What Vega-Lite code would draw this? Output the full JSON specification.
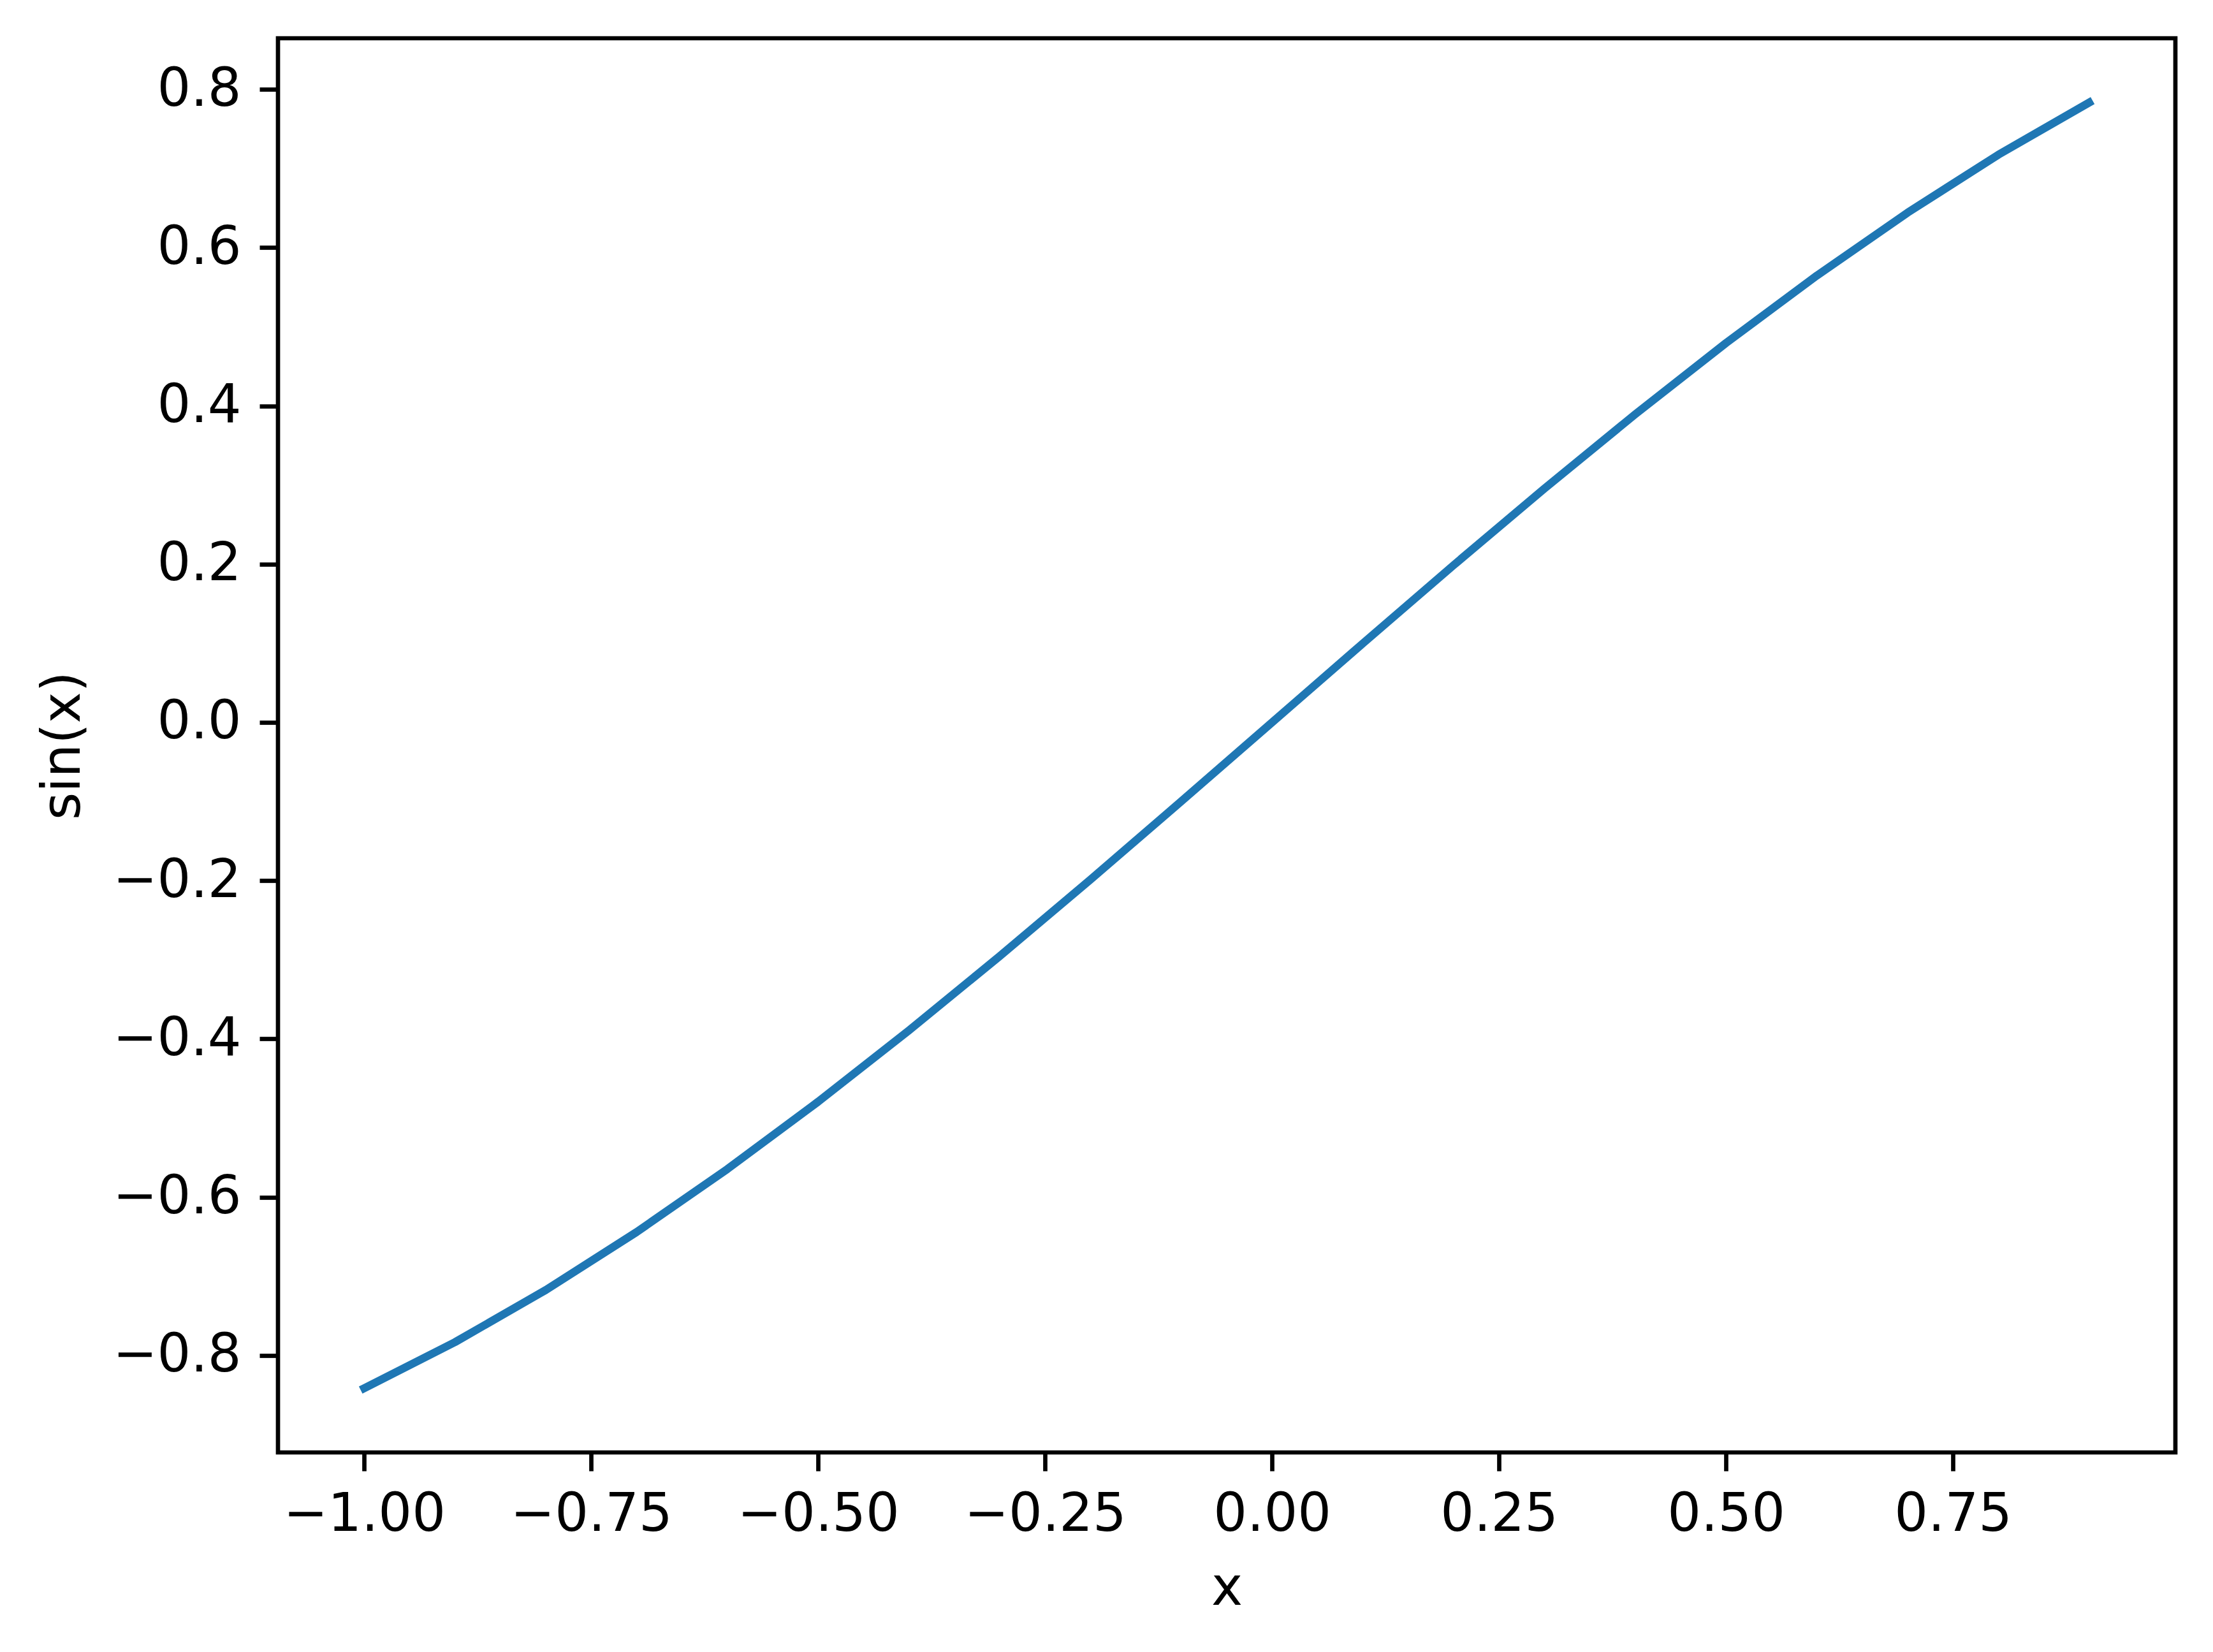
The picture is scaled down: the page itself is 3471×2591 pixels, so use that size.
{
  "$schema": "https://vega.github.io/schema/vega-lite/v6.json",
  "autosize": {"type": "none"},
  "padding": {"left": 436, "top": 60, "right": 59, "bottom": 313},
  "width": 2976,
  "height": 2218,
  "background": "white",
  "data": {"values": [
    {"x": -1.0, "y": -0.8415},
    {"x": -0.9, "y": -0.7833},
    {"x": -0.8, "y": -0.7174},
    {"x": -0.7, "y": -0.6442},
    {"x": -0.6, "y": -0.5646},
    {"x": -0.5, "y": -0.4794},
    {"x": -0.4, "y": -0.3894},
    {"x": -0.3, "y": -0.2955},
    {"x": -0.2, "y": -0.1987},
    {"x": -0.1, "y": -0.0998},
    {"x": 0.0, "y": 0.0},
    {"x": 0.1, "y": 0.0998},
    {"x": 0.2, "y": 0.1987},
    {"x": 0.3, "y": 0.2955},
    {"x": 0.4, "y": 0.3894},
    {"x": 0.5, "y": 0.4794},
    {"x": 0.6, "y": 0.5646},
    {"x": 0.7, "y": 0.6442},
    {"x": 0.8, "y": 0.7174},
    {"x": 0.9, "y": 0.7833}
  ]},
  "mark": {"type": "line", "color": "#1f77b4", "strokeWidth": 12.5, "strokeCap": "square", "strokeJoin": "round"},
  "encoding": {
    "x": {
      "field": "x", "type": "quantitative",
      "scale": {"domain": [-1.095, 0.995], "nice": false, "zero": false},
      "axis": {
        "title": "x",
        "values": [-1.0, -0.75, -0.5, -0.25, 0.0, 0.25, 0.5, 0.75],
        "labelExpr": "replace(format(datum.value, '.2f'), '-', '−')",
        "labelPadding": 27,
        "titlePadding": 33
      }
    },
    "y": {
      "field": "y", "type": "quantitative",
      "scale": {"domain": [-0.9227, 0.8646], "nice": false, "zero": false},
      "axis": {
        "title": "sin(x)",
        "values": [-0.8, -0.6, -0.4, -0.2, 0.0, 0.2, 0.4, 0.6, 0.8],
        "labelExpr": "replace(format(datum.value, '.1f'), '-', '−')",
        "labelPadding": 29,
        "titlePadding": 95
      }
    }
  },
  "config": {
    "view": {"stroke": "black", "strokeWidth": 6.7, "fill": "white"},
    "axis": {
      "domain": false,
      "grid": false,
      "ticks": true,
      "tickSize": 29,
      "tickWidth": 6.7,
      "tickColor": "black",
      "labelFont": "DejaVu Sans",
      "labelFontSize": 83,
      "labelColor": "black",
      "labelLimit": 0,
      "labelFlush": false,
      "labelOverlap": false,
      "titleFont": "DejaVu Sans",
      "titleFontSize": 83,
      "titleFontWeight": "normal",
      "titleColor": "black"
    }
  }
}
